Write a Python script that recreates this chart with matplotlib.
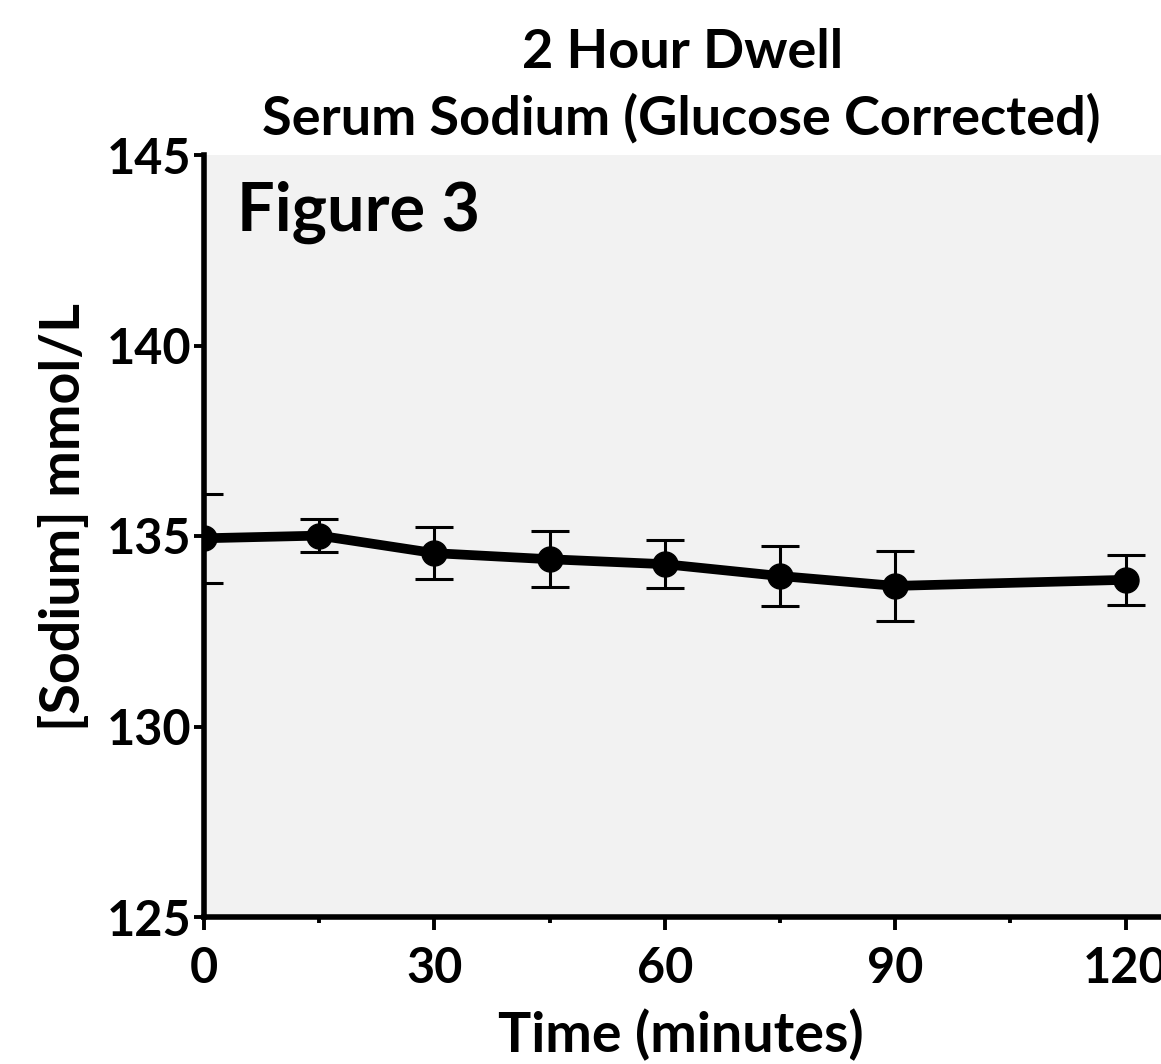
import matplotlib
matplotlib.use("Agg")
import matplotlib.pyplot as plt
from matplotlib.ticker import MultipleLocator

plt.rcParams['font.family'] = ['Lato', 'DejaVu Sans']
plt.rcParams['font.weight'] = 'bold'

# sampling times (minutes) and glucose-corrected serum sodium (mmol/L)
time_min = [0, 15, 30, 45, 60, 75, 90, 120]
sodium_mean = [134.94, 135.01, 134.55, 134.39, 134.26, 133.95, 133.69, 133.85]
sodium_err = [1.17, 0.44, 0.69, 0.73, 0.63, 0.79, 0.91, 0.66]

x_ticks = [0, 30, 60, 90, 120]
y_ticks = [125, 130, 135, 140, 145]

fig = plt.figure(figsize=(11.61, 10.64), dpi=100)
ax = fig.add_axes([204 / 1161, 1 - 917 / 1064, (1164 - 204) / 1161, (917 - 155) / 1064])
ax.set_facecolor('#f2f2f2')

ax.errorbar(time_min, sodium_mean, yerr=sodium_err, color='black', lw=7,
            marker='o', ms=18, elinewidth=2.2, capsize=14, capthick=2.2, zorder=3)

ax.set_xlim(0, 125)
ax.set_ylim(125, 145)
ax.set_xticks(x_ticks)
ax.xaxis.set_minor_locator(MultipleLocator(15))
ax.set_yticks(y_ticks)

for side in ['top', 'right']:
    ax.spines[side].set_visible(False)
for side in ['left', 'bottom']:
    ax.spines[side].set_linewidth(4)

ax.tick_params(axis='both', which='major', labelsize=35, width=2.8, length=7)
ax.tick_params(axis='x', which='major', length=9, pad=12)
ax.tick_params(axis='x', which='minor', width=2.8, length=4)
ax.tick_params(axis='y', pad=2)

ax.set_xlabel('Time (minutes)', fontsize=40, fontweight='bold')
ax.set_ylabel('[Sodium] mmol/L', fontsize=40, fontweight='bold')
ax.xaxis.set_label_coords(0.497, -0.12)
ax.yaxis.set_label_coords(-0.12, 0.525)

fig.text(683 / 1161, 1 - 52 / 1064, '2 Hour Dwell', ha='center', va='center',
         fontsize=39, fontweight='bold')
fig.text(681 / 1161, 1 - 118 / 1064, 'Serum Sodium (Glucose Corrected)', ha='center',
         va='center', fontsize=39, fontweight='bold')
ax.text(0.034, 0.925, 'Figure 3', transform=ax.transAxes, ha='left', va='center',
        fontsize=48, fontweight='bold')

fig.savefig('out.png', dpi=100)
